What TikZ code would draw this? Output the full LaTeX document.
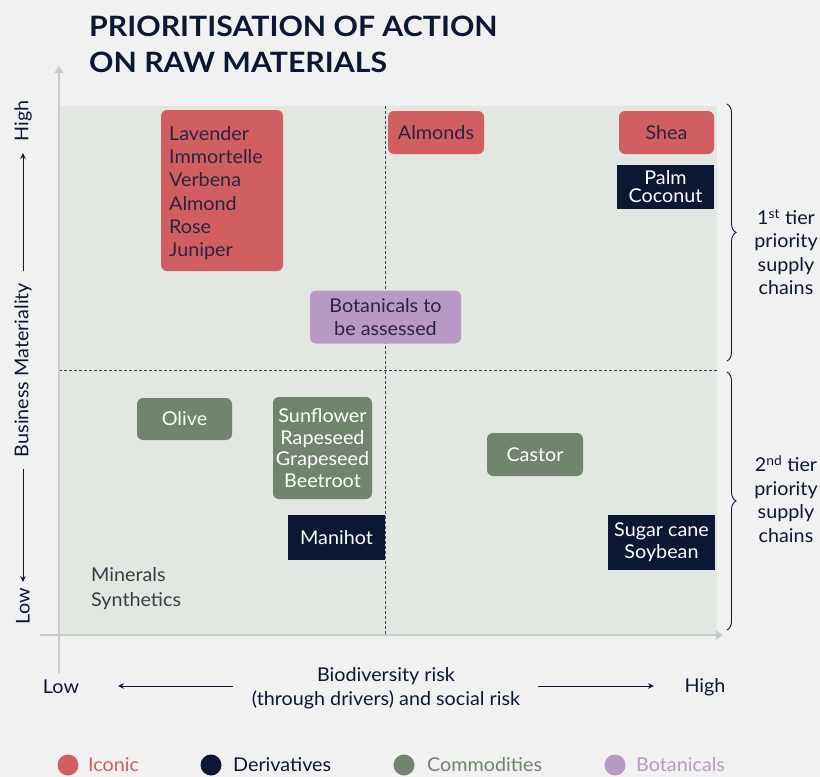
\documentclass[tikz,border=0pt]{standalone}
\usepackage{fontspec}
\setmainfont{Lato}[FakeStretch=1.04]
\newfontfamily\titlefont{Lato}[FakeStretch=1.08]
\usetikzlibrary{arrows.meta,decorations.pathreplacing}
\definecolor{bgcol}{HTML}{F0F1F0}
\definecolor{plotcol}{HTML}{E3E7E2}
\definecolor{navy}{HTML}{0C1733}
\definecolor{iconic}{HTML}{D15F61}
\definecolor{commod}{HTML}{72846F}
\definecolor{botan}{HTML}{B899C4}
\definecolor{axisgrey}{HTML}{C9CCCB}
\definecolor{ink}{HTML}{2A2440}
\definecolor{txtgrey}{HTML}{3A3B45}
\tikzset{
  x=1pt, y=-1pt,
  lbl/.style={font=\fontsize{19}{23}\selectfont, text=navy, inner sep=0pt},
  tag/.style={font=\fontsize{19}{22.5}\selectfont, inner sep=0pt, align=center},
  iconicbox/.style={tag, fill=iconic, rounded corners=6pt, text=ink},
  derivbox/.style={tag, fill=navy, text=white},
  commodbox/.style={tag, fill=commod, rounded corners=6pt, text=white},
  botanbox/.style={tag, fill=botan, rounded corners=6pt, text=ink},
  divider/.style={navy!80, line width=0.7pt, dash pattern=on 3pt off 2pt},
  axisline/.style={axisgrey, line width=1.2pt},
  sidearrow/.style={navy, line width=0.9pt, -{Stealth[length=6pt,width=5.5pt]}},
  tierbrace/.style={navy, line width=0.9pt, decorate, decoration={brace, amplitude=9pt}},
}
\begin{document}
\begin{tikzpicture}
% canvas
\fill[bgcol] (0,0) rectangle (820,777);
\useasboundingbox (0,0) rectangle (820,777);

% title
\node[anchor=north west, inner sep=0pt, align=left, text=navy,
      font=\titlefont\fontsize{28}{36}\selectfont\bfseries] (title) at (89,16)
  {PRIORITISATION OF ACTION\\ON RAW MATERIALS};

% plot area and quadrant dividers
\fill[plotcol] (59,106) rectangle (717,634);
\coordinate (vtop) at (385,106);
\coordinate (vbot) at (385,634);
\coordinate (hl) at (59,370);
\coordinate (hr) at (717,370);
\draw[divider] (vtop) -- (vbot);
\draw[divider] (hl) -- (hr);

% axes
\coordinate (ytop) at (59,66);
\coordinate (ybot) at (59,673);
\coordinate (xl) at (40,635);
\coordinate (xr) at (723,635);
\draw[axisline, -{Triangle[length=7pt,width=9pt]}] (ybot) -- (ytop);
\draw[axisline, -{Triangle[length=7pt,width=9pt]}] (xl) -- (xr);

% vertical axis labels
\node[lbl, rotate=90] (yhigh) at (23,121) {High};
\node[lbl, rotate=90] (ylow) at (23,606) {Low};
\node[lbl, rotate=90] (ytitle) at (23,370) {Business Materiality};
\draw[sidearrow] (ytitle.east) ++(0,-12) coordinate (ya) -- (23,153) coordinate (yb);
\draw[sidearrow] (ytitle.west) ++(0,12) coordinate (yc) -- (23,582) coordinate (yd);

% horizontal axis labels
\node[lbl] (xlow) at (61,687) {Low};
\node[lbl] (xhigh) at (705,687) {High};
\node[lbl, align=center, font=\fontsize{19}{24}\selectfont] (xtitle) at (386,688)
  {Biodiversity risk\\(through drivers) and social risk};
\coordinate (xa) at (233,686);
\coordinate (xb) at (118,686);
\coordinate (xc) at (538,686);
\coordinate (xd) at (654,686);
\draw[sidearrow] (xa) -- (xb);
\draw[sidearrow] (xc) -- (xd);

% raw material groups
\node[iconicbox, minimum width=122pt, minimum height=161pt] (lav) at (222,190.5) {};
\node[lbl, anchor=north west, align=left, text=ink, font=\fontsize{19}{23.3}\selectfont]
  (lavtxt) at (169,126) {Lavender\\Immortelle\\Verbena\\Almond\\Rose\\Juniper};
\node[iconicbox, minimum width=96pt, minimum height=43pt] (alm) at (436,132.5) {Almonds};
\node[iconicbox, minimum width=95pt, minimum height=43pt] (shea) at (666.5,132.5) {Shea};
\node[derivbox, minimum width=97pt, minimum height=44pt, font=\fontsize{19}{18}\selectfont]
  (palm) at (665.5,186.5) {Palm\\Coconut};
\node[botanbox, minimum width=151pt, minimum height=53pt] (bot) at (385.5,317)
  {Botanicals to\\be assessed};
\node[commodbox, minimum width=95pt, minimum height=42pt] (olive) at (184.5,419) {Olive};
\node[commodbox, minimum width=99pt, minimum height=102pt, font=\fontsize{19}{21.7}\selectfont]
  (sun) at (322.5,448) {Sunflower\\Rapeseed\\Grapeseed\\Beetroot};
\node[derivbox, minimum width=97pt, minimum height=45pt] (man) at (336.5,537.5) {Manihot};
\node[commodbox, minimum width=96pt, minimum height=43pt] (castor) at (535,454.5) {Castor};
\node[derivbox, minimum width=107pt, minimum height=55pt, font=\fontsize{19}{22}\selectfont]
  (sugar) at (661.5,542.5) {Sugar cane\\Soybean};
\node[lbl, anchor=west, align=left, text=txtgrey, font=\fontsize{19}{25}\selectfont]
  (min) at (91,589) {Minerals\\Synthetics};

% priority tiers
\coordinate (b1t) at (727,104);
\coordinate (b1b) at (727,361);
\coordinate (b2t) at (727,372);
\coordinate (b2b) at (727,630);
\draw[tierbrace] (b1t) -- (b1b);
\draw[tierbrace] (b2t) -- (b2b);
\node[lbl, align=center, font=\fontsize{19}{23.5}\selectfont] (tier1) at (786,252)
  {1\textsuperscript{st} tier\\priority\\supply\\chains};
\node[lbl, align=center, font=\fontsize{19}{23.5}\selectfont] (tier2) at (786,499)
  {2\textsuperscript{nd} tier\\priority\\supply\\chains};

% legend
\tikzset{legtxt/.style={font=\fontsize{19}{22}\selectfont, inner sep=0pt, anchor=west}}
\fill[iconic] (68,765) circle (10.5pt) coordinate (k1);
\node[legtxt, text=iconic] (l1) at (88,765) {Iconic};
\fill[navy] (211,765) circle (10.5pt) coordinate (k2);
\node[legtxt, text=navy] (l2) at (233,765) {Derivatives};
\fill[commod] (404,765) circle (10.5pt) coordinate (k3);
\node[legtxt, text=commod] (l3) at (427,765) {Commodities};
\fill[botan] (615,765) circle (10.5pt) coordinate (k4);
\node[legtxt, text=botan] (l4) at (636,765) {Botanicals};
\end{tikzpicture}
\end{document}
